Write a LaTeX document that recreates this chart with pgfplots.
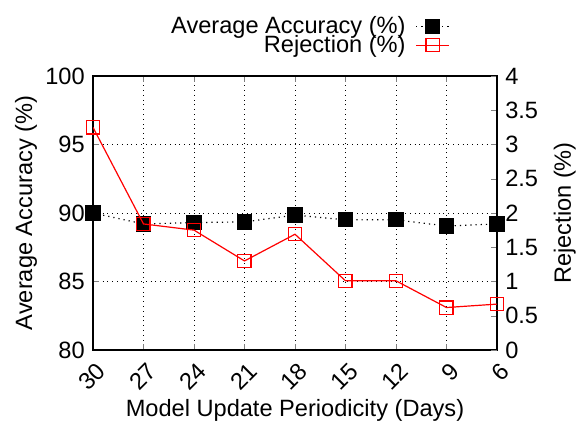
\documentclass[border=0pt]{standalone}
\usepackage{fontspec}
\setmainfont{Liberation Sans}
\usepackage{pgfplots}
\pgfplotsset{compat=1.18}
\begin{document}
\fontsize{11.8}{14}\selectfont
\begin{tikzpicture}
\pgfplotsset{
  every axis/.append style={
    scale only axis, width=202pt, height=137pt,
    xmin=0, xmax=8,
    /pgf/number format/assume math mode=true,
    tick label style={font=\fontsize{11.8}{14}\selectfont},
    label style={font=\fontsize{11.8}{14}\selectfont},
    tick align=inside, major tick length=3pt,
    axis line style={line width=0.6pt},
  },
}
\begin{axis}[
  ymin=80, ymax=100, ytick={80,85,90,95,100},
  xtick={0,1,2,3,4,5,6,7,8},
  xticklabels={30,27,24,21,18,15,12,9,6},
  xticklabel style={rotate=45, anchor=east, xshift=1pt, yshift=-9pt},
  ytick pos=left, xtick pos=both,
  grid=major,
  major grid style={black, dotted, line width=0.4pt},
  xlabel={Model Update Periodicity (Days)},
  ylabel={Average Accuracy (\%)},
  xlabel style={at={(axis description cs:0.5,-0.219)}, anchor=center},
  ylabel style={at={(axis description cs:-0.166,0.5)}, anchor=center},
]
\coordinate (o) at (rel axis cs:0,0);
\addplot[black, dotted, line width=0.6pt, mark=square*, mark size=3.5pt, mark options={solid, fill=black}]
  coordinates {(0,90.0)(1,89.2)(2,89.3)(3,89.35)(4,89.85)(5,89.5)(6,89.5)(7,89.05)(8,89.2)};
\end{axis}
\begin{axis}[
  ymin=0, ymax=4, ytick={0,0.5,1,1.5,2,2.5,3,3.5,4},
  axis y line*=right, axis x line=none,
  ylabel={Rejection (\%)},
  ylabel style={at={(axis description cs:1.168,0.5)}, anchor=center},
  legend plot pos=right,
  legend cell align=right,
  legend image code/.code={\draw[mark repeat=2,mark phase=2,#1] plot coordinates {(0pt,0pt)(8.25pt,0pt)(16.5pt,0pt)};},
  legend style={at={(axis description cs:0.889,1)}, anchor=south east, yshift=7pt,
    draw=none, fill=none, font=\fontsize{11.8}{14}\selectfont,
    row sep=-5pt, column sep=3pt, inner sep=1pt},
]
\addlegendimage{black, dotted, line width=0.6pt, mark=square*, mark size=3.5pt, mark options={solid, fill=black}}
\addlegendentry{Average Accuracy (\%)}
\addplot[red, line width=0.6pt, mark=square, mark size=3.3pt, mark options={solid}]
  coordinates {(0,3.25)(1,1.84)(2,1.75)(3,1.30)(4,1.69)(5,1.01)(6,1.01)(7,0.62)(8,0.67)};
\addlegendentry{Rejection (\%)}
\end{axis}
\path (o) ++(-46.5pt,-36pt) rectangle ++(293.5pt,211pt);
\end{tikzpicture}
\end{document}
